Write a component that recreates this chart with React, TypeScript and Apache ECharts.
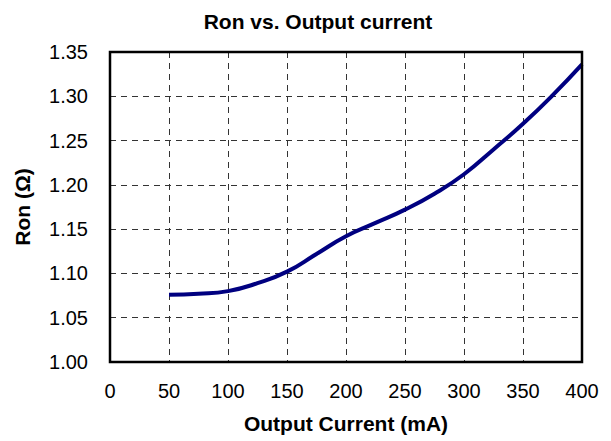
import React, { useEffect, useRef } from "react";
import * as echarts from "echarts";

const currents = [50, 75, 100, 125, 150, 175, 200, 225, 250, 275, 300, 325, 350, 375, 400];
const ronValues = [1.076, 1.077, 1.080, 1.089, 1.102, 1.122, 1.142, 1.157, 1.172, 1.190, 1.212, 1.240, 1.269, 1.301, 1.336];
const titleText = "Ron vs. Output current";
const xName = "Output Current (mA)";
const yName = "Ron (Ω)";

export default function App() {
  const ref = useRef<HTMLDivElement>(null);
  useEffect(() => {
    if (!ref.current) return;
    const chart = echarts.init(ref.current, null, { renderer: "svg" });
    const font = "Liberation Sans, Arial, sans-serif";
    chart.setOption({
      animation: false,
      backgroundColor: "#ffffff",
      title: {
        text: titleText,
        left: 313,
        textAlign: "center",
        top: 6,
        textStyle: { fontFamily: font, fontSize: 21, fontWeight: "bold", color: "#000" },
      },
      grid: { left: 110, top: 52, right: 29, bottom: 79 },
      xAxis: {
        type: "value",
        min: 0,
        max: 400,
        interval: 50,
        name: xName,
        nameLocation: "middle",
        nameGap: 51,
        nameTextStyle: { fontFamily: font, fontSize: 21, fontWeight: "bold", color: "#000" },
        axisLine: { show: true, onZero: false, lineStyle: { color: "#000", width: 2 } },
        axisTick: { show: false },
        axisLabel: { fontFamily: font, fontSize: 20, color: "#000", margin: 19 },
        splitLine: { show: true, lineStyle: { color: "#333", type: [6, 5], width: 1 } },
      },
      yAxis: {
        type: "value",
        min: 1.0,
        max: 1.35,
        interval: 0.05,
        name: yName,
        nameLocation: "middle",
        nameGap: 77,
        nameTextStyle: { fontFamily: font, fontSize: 21, fontWeight: "bold", color: "#000" },
        axisLine: { show: true, lineStyle: { color: "#000", width: 2 } },
        axisTick: { show: false },
        axisLabel: {
          fontFamily: font,
          fontSize: 20,
          color: "#000",
          margin: 22,
          formatter: (v: number) => v.toFixed(2),
        },
        splitLine: { show: true, lineStyle: { color: "#333", type: [6, 5], width: 1 } },
      },
      graphic: [
        {
          type: "rect",
          shape: { x: 110, y: 52, width: 472, height: 310 },
          style: { fill: "none", stroke: "#000", lineWidth: 2.5 },
          silent: true,
          z: 10,
        },
      ],
      series: [
        {
          type: "line",
          data: currents.map((c, i) => [c, ronValues[i]]),
          smooth: true,
          showSymbol: false,
          lineStyle: { color: "#000080", width: 4 },
          z: 5,
        },
      ],
    });
    return () => chart.dispose();
  }, []);
  return <div ref={ref} style={{ position: "fixed", left: 0, top: 0, width: 611, height: 441 }} />;
}
